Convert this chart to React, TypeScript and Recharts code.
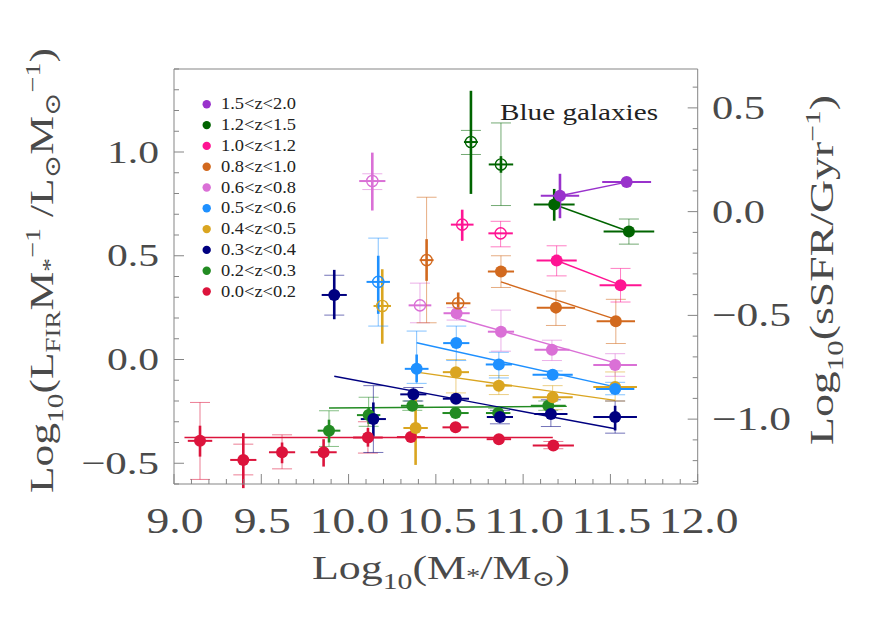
import React from "react";
import { ComposedChart, Scatter, XAxis, YAxis, ErrorBar, ReferenceLine } from "recharts";

// ---------- axes ----------
const X_DOMAIN: [number, number] = [9, 12];
const Y_LEFT_DOMAIN: [number, number] = [-0.6, 1.4];
const SSFR_OFFSET = 0.7126; // right axis value = left axis value - offset
const Y_RIGHT_DOMAIN: [number, number] = [Y_LEFT_DOMAIN[0] - SSFR_OFFSET, Y_LEFT_DOMAIN[1] - SSFR_OFFSET];
const X_MAJOR = [9.0, 9.5, 10.0, 10.5, 11.0, 11.5, 12.0];
const Y_LEFT_MAJOR = [-0.5, 0.0, 0.5, 1.0];
const Y_RIGHT_MAJOR = [-1.0, -0.5, 0.0, 0.5];
const minorTicks = (from: number, to: number) => {
  const out: number[] = [];
  for (let v = Math.round(from * 10); v <= Math.round(to * 10); v++) out.push(v / 10);
  return out;
};
const X_TICKS = minorTicks(9.0, 12.0);
const Y_LEFT_TICKS = minorTicks(-0.6, 1.4);
const Y_RIGHT_TICKS = minorTicks(-1.3, 0.6);

// ---------- data ----------
// row: [logM, y, xErr, thickLo, thickHi, thinLo, thinHi, open(1)/filled(0)]
type Row = [number, number, number, number | null, number | null, number | null, number | null, number];

const z00_02: Row[] = [
  [9.149, -0.392, 0.07, -0.468, -0.319, -0.578, -0.207, 0],
  [9.397, -0.484, 0.075, -0.62, -0.355, -0.556, -0.408, 0],
  [9.619, -0.447, 0.075, -0.5, -0.4, -0.527, -0.363, 0],
  [9.857, -0.447, 0.075, -0.516, -0.384, null, null, 0],
  [10.111, -0.376, 0.085, -0.42, -0.33, -0.451, -0.3, 0],
  [10.357, -0.374, 0.08, null, null, null, null, 0],
  [10.613, -0.327, 0.075, null, null, null, null, 0],
  [10.861, -0.384, 0.07, null, null, null, null, 0],
  [11.173, -0.414, 0.118, null, null, -0.43, -0.395, 0],
];
const z02_03: Row[] = [
  [9.888, -0.343, 0.065, -0.4, -0.29, -0.419, -0.247, 0],
  [10.115, -0.268, 0.067, -0.31, -0.23, -0.322, -0.182, 0],
  [10.365, -0.223, 0.065, null, null, -0.245, -0.2, 0],
  [10.613, -0.258, 0.075, null, null, null, null, 0],
  [10.857, -0.258, 0.07, null, null, -0.28, -0.235, 0],
  [11.144, -0.223, 0.1, null, null, -0.245, -0.2, 0],
];
const z03_04: Row[] = [
  [9.918, 0.311, 0.072, 0.194, 0.432, 0.214, 0.406, 0],
  [10.142, -0.287, 0.072, -0.371, -0.207, -0.448, -0.126, 0],
  [10.371, -0.168, 0.075, null, null, -0.2, -0.135, 0],
  [10.615, -0.189, 0.075, null, null, null, null, 0],
  [10.867, -0.277, 0.075, null, null, -0.31, -0.245, 0],
  [11.159, -0.263, 0.095, null, null, -0.323, -0.194, 0],
  [11.527, -0.277, 0.125, -0.342, -0.223, -0.355, -0.2, 0],
];
const z04_05: Row[] = [
  [10.193, 0.258, 0.05, 0.076, 0.435, null, null, 1],
  [10.384, -0.33, 0.07, -0.508, -0.161, null, null, 0],
  [10.615, -0.061, 0.075, null, null, -0.161, 0.0, 0],
  [10.861, -0.126, 0.075, null, null, -0.169, -0.077, 0],
  [11.169, -0.182, 0.115, null, null, -0.242, -0.126, 0],
  [11.527, -0.132, 0.125, null, null, -0.2, -0.06, 0],
];
const z05_06: Row[] = [
  [10.17, 0.374, 0.067, 0.22, 0.5, 0.161, 0.585, 1],
  [10.39, -0.045, 0.068, -0.11, 0.024, -0.115, 0.137, 0],
  [10.617, 0.079, 0.075, null, null, -0.005, 0.161, 0],
  [10.861, -0.024, 0.075, null, null, -0.089, 0.035, 0],
  [11.169, -0.074, 0.115, null, null, -0.09, -0.055, 0],
  [11.527, -0.142, 0.11, null, null, -0.17, -0.11, 0],
];
const z06_08: Row[] = [
  [10.136, 0.86, 0.075, 0.718, 0.997, 0.819, 0.895, 1],
  [10.409, 0.261, 0.065, null, null, 0.177, 0.368, 1],
  [10.619, 0.223, 0.075, null, null, 0.19, 0.25, 0],
  [10.873, 0.134, 0.075, null, null, 0.04, 0.238, 0],
  [11.165, 0.047, 0.1, null, null, -0.005, 0.093, 0],
  [11.527, -0.026, 0.125, null, null, -0.081, 0.028, 0],
];
const z08_10: Row[] = [
  [10.447, 0.479, 0.04, 0.379, 0.58, 0.177, 0.782, 1],
  [10.628, 0.271, 0.07, 0.213, 0.323, null, null, 1],
  [10.873, 0.424, 0.075, null, null, 0.347, 0.5, 0],
  [11.188, 0.25, 0.11, null, null, 0.164, 0.33, 0],
  [11.531, 0.184, 0.11, null, null, 0.077, 0.29, 0],
];
const z10_12: Row[] = [
  [10.651, 0.65, 0.065, 0.572, 0.722, null, null, 1],
  [10.871, 0.608, 0.07, null, null, 0.543, 0.666, 1],
  [11.192, 0.477, 0.115, null, null, 0.403, 0.548, 0],
  [11.558, 0.358, 0.12, null, null, 0.277, 0.439, 0],
];
const z12_15: Row[] = [
  [10.701, 1.048, 0.04, 0.798, 1.295, 0.988, 1.104, 1],
  [10.873, 0.94, 0.07, 0.9, 0.98, 0.742, 1.14, 1],
  [11.178, 0.747, 0.117, 0.669, 0.822, null, null, 0],
  [11.606, 0.617, 0.145, null, null, 0.556, 0.677, 0],
];
const z15_20: Row[] = [
  [11.211, 0.789, 0.11, 0.681, 0.895, null, null, 0],
  [11.593, 0.855, 0.14, null, null, null, null, 0],
];

// fitted lines: [[x0, y0], [x1, y1]]
const fit00_02 = [[9.06, -0.376], [11.17, -0.376]];
const fit02_03 = [[9.888, -0.234], [11.25, -0.226]];
const fit03_04 = [[9.918, -0.081], [11.527, -0.334]];
const fit04_05 = [[10.39, -0.061], [11.527, -0.197]];
const fit05_06 = [[10.39, 0.081], [11.527, -0.132]];
const fit06_08 = [[10.615, 0.2], [11.527, -0.016]];
const fit08_10 = [[10.873, 0.374], [11.531, 0.193]];
const fit10_12 = [[11.192, 0.477], [11.558, 0.358]];
const fit12_15 = [[11.178, 0.747], [11.606, 0.617]];
const fit15_20 = [[11.211, 0.789], [11.593, 0.855]];

const LABELS = ["0.0<z<0.2", "0.2<z<0.3", "0.3<z<0.4", "0.4<z<0.5", "0.5<z<0.6", "0.6<z<0.8", "0.8<z<1.0", "1.0<z<1.2", "1.2<z<1.5", "1.5<z<2.0"];
const COLORS = ["#DC143C", "#228B22", "#000080", "#DAA520", "#1E90FF", "#DA70D6", "#D2691E", "#FF1493", "#006400", "#9932CC"];
const SERIES = [z00_02, z02_03, z03_04, z04_05, z05_06, z06_08, z08_10, z10_12, z12_15, z15_20];
const FITS = [fit00_02, fit02_03, fit03_04, fit04_05, fit05_06, fit06_08, fit08_10, fit10_12, fit12_15, fit15_20];

const toData = (rows: Row[]) =>
  rows.map(([x, y, xe, tLo, tHi, nLo, nHi, open]) => ({
    x,
    y,
    ex: xe,
    eyT: tLo != null && tHi != null ? [y - tLo, tHi - y] : null,
    eyN: nLo != null && nHi != null ? [y - nLo, nHi - y] : null,
    open: open === 1,
  }));

// ---------- layout ----------
const W = 864;
const H = 615;
const P_LEFT = 166;
const P_RIGHT = 689.7;
const P_TOP = 61;
const P_BOTTOM = 476;
const AX = "#858585";
const TXT = "#4a4a4a";
const FONT = "'Liberation Serif', 'DejaVu Serif', serif";

const isMajor = (v: number) => Math.abs(v * 2 - Math.round(v * 2)) < 1e-6;
const fmt = (v: number) => (v < -1e-9 ? "\u2212" : "") + Math.abs(v).toFixed(1);
// rendered width of a tick label (wide Hershey-like digits)
const labelWidth = (s: string, digitW: number) => {
  let w = 0;
  for (const ch of s) w += ch === "." ? 12 : ch === "\u2212" ? 26 : digitW;
  return w;
};

const BottomTick = (p: any) => {
  const v = p.payload.value;
  const m = isMajor(v);
  const s = fmt(v);
  return (
    <g>
      <line x1={p.x} x2={p.x} y1={P_BOTTOM} y2={P_BOTTOM - (m ? 10 : 5)} stroke={AX} strokeWidth={1} />
      {m && (
        <text x={p.x + 1} y={524.5} textAnchor="middle" fontFamily={FONT} fontSize={35} fill={TXT} textLength={labelWidth(s, 22.5)} lengthAdjust="spacingAndGlyphs">
          {s}
        </text>
      )}
    </g>
  );
};
const TopTick = (p: any) => {
  const m = isMajor(p.payload.value);
  return <line x1={p.x} x2={p.x} y1={P_TOP} y2={P_TOP + (m ? 10 : 5)} stroke={AX} strokeWidth={1} />;
};
const LeftTick = (p: any) => {
  const v = p.payload.value;
  const m = isMajor(v);
  const s = fmt(v);
  return (
    <g>
      <line x1={P_LEFT} x2={P_LEFT + (m ? 10 : 5)} y1={p.y} y2={p.y} stroke={AX} strokeWidth={1} />
      {m && (
        <text x={151} y={p.y + 10.5} textAnchor="end" fontFamily={FONT} fontSize={32} fill={TXT} textLength={labelWidth(s, 20)} lengthAdjust="spacingAndGlyphs">
          {s}
        </text>
      )}
    </g>
  );
};
const RightTick = (p: any) => {
  const v = p.payload.value;
  const m = isMajor(v);
  const s = fmt(v);
  return (
    <g>
      <line x1={P_RIGHT} x2={P_RIGHT - (m ? 10 : 5)} y1={p.y} y2={p.y} stroke={AX} strokeWidth={1} />
      {m && (
        <text x={704} y={p.y + 11} textAnchor="start" fontFamily={FONT} fontSize={33} fill={TXT} textLength={labelWidth(s, 20.5)} lengthAdjust="spacingAndGlyphs">
          {s}
        </text>
      )}
    </g>
  );
};

const makeShape = (color: string) => (props: any) => {
  const { cx, cy, payload } = props;
  if (cx == null || cy == null) return <g />;
  if (payload && payload.open) {
    return <circle cx={cx} cy={cy} r={5.6} fill="none" stroke={color} strokeWidth={1.4} />;
  }
  return <circle cx={cx} cy={cy} r={6} fill={color} />;
};

export default function App() {
  return (
    <div style={{ position: "relative", width: W, height: H }}>
      <ComposedChart
        width={W}
        height={H}
        margin={{ left: P_LEFT - 60, right: W - P_RIGHT - 60, top: P_TOP - 20, bottom: H - P_BOTTOM - 60 }}
      >
        <XAxis
          xAxisId="b"
          dataKey="x"
          type="number"
          domain={X_DOMAIN}
          allowDataOverflow
          ticks={X_TICKS}
          interval={0}
          height={60}
          tickLine={false}
          axisLine={{ stroke: AX }}
          tick={BottomTick}
        />
        <XAxis
          xAxisId="t"
          orientation="top"
          type="number"
          domain={X_DOMAIN}
          allowDataOverflow
          ticks={X_TICKS}
          interval={0}
          height={20}
          tickLine={false}
          axisLine={{ stroke: AX }}
          tick={TopTick}
        />
        <YAxis
          yAxisId="l"
          dataKey="y"
          type="number"
          domain={Y_LEFT_DOMAIN}
          allowDataOverflow
          ticks={Y_LEFT_TICKS}
          interval={0}
          width={60}
          tickLine={false}
          axisLine={{ stroke: AX }}
          tick={LeftTick}
        />
        <YAxis
          yAxisId="r"
          orientation="right"
          type="number"
          domain={Y_RIGHT_DOMAIN}
          allowDataOverflow
          ticks={Y_RIGHT_TICKS}
          interval={0}
          width={60}
          tickLine={false}
          axisLine={{ stroke: AX }}
          tick={RightTick}
        />
        {FITS.map((f, i) => (
          <ReferenceLine
            key={"fit" + i}
            xAxisId="b"
            yAxisId="l"
            segment={[
              { x: f[0][0], y: f[0][1] },
              { x: f[1][0], y: f[1][1] },
            ]}
            stroke={COLORS[i]}
            strokeWidth={1.4}
            ifOverflow="visible"
          />
        ))}
        {SERIES.map((rows, i) => (
          <Scatter
            key={LABELS[i]}
            name={LABELS[i]}
            xAxisId="b"
            yAxisId="l"
            data={toData(rows)}
            dataKey="y"
            shape={makeShape(COLORS[i])}
            isAnimationActive={false}
          >
            <ErrorBar dataKey="ex" direction="x" width={0} stroke={COLORS[i]} strokeWidth={2} isAnimationActive={false} />
            <ErrorBar dataKey="eyN" direction="y" width={10} stroke={COLORS[i]} strokeWidth={1} strokeOpacity={0.55} isAnimationActive={false} />
            <ErrorBar dataKey="eyT" direction="y" width={0} stroke={COLORS[i]} strokeWidth={2.6} isAnimationActive={false} />
          </Scatter>
        ))}
      </ComposedChart>
      <svg width={W} height={H} style={{ position: "absolute", left: 0, top: 0, pointerEvents: "none" }}>
        {/* legend */}
        {LABELS.map((lab, i) => {
          const row = LABELS.length - 1 - i;
          const cy = 96.3 + row * 20.8;
          return (
            <g key={lab}>
              <circle cx={198.7} cy={cy} r={4.2} fill={COLORS[i]} />
              <text x={213} y={cy + 5} fontFamily={FONT} fontSize={16} fill="#222" textLength={75} lengthAdjust="spacingAndGlyphs">
                {lab}
              </text>
            </g>
          );
        })}
        <text x={492} y={112} fontFamily={FONT} fontSize={23} fill="#222" textLength={158} lengthAdjust="spacingAndGlyphs">
          Blue galaxies
        </text>
        {/* bottom title */}
        <text x={304} y={571} fontFamily={FONT} fontSize={34} fill={TXT} textLength={258} lengthAdjust="spacingAndGlyphs">
          Log
          <tspan dy={10} fontSize={23}>10</tspan>
          <tspan dy={-10}>(M</tspan>
          <tspan dy={4} fontSize={22}>*</tspan>
          <tspan dy={-4}>/M</tspan>
          <tspan dy={7} fontSize={22}>{"\u2299"}</tspan>
          <tspan dy={-7}>)</tspan>
        </text>
        {/* left title */}
        <text
          transform="translate(45,262.5) rotate(-90)"
          x={0}
          y={0}
          textAnchor="middle"
          fontFamily={FONT}
          fontSize={34}
          fill={TXT}
          textLength={445}
          lengthAdjust="spacingAndGlyphs"
        >
          Log
          <tspan dy={10} fontSize={23}>10</tspan>
          <tspan dy={-10}>(L</tspan>
          <tspan dy={7} fontSize={21}>FIR</tspan>
          <tspan dy={-7}>M</tspan>
          <tspan dy={4} fontSize={22}>*</tspan>
          <tspan dy={-17} fontSize={22}>{"\u22121"}</tspan>
          <tspan dy={13}>{" /L"}</tspan>
          <tspan dy={7} fontSize={22}>{"\u2299"}</tspan>
          <tspan dy={-7}>M</tspan>
          <tspan dy={7} fontSize={22}>{"\u2299"}</tspan>
          <tspan dy={-20} fontSize={22}>{"\u22121"}</tspan>
          <tspan dy={13}>)</tspan>
        </text>
        {/* right title */}
        <text
          transform="translate(825,262) rotate(-90)"
          x={0}
          y={0}
          textAnchor="middle"
          fontFamily={FONT}
          fontSize={34}
          fill={TXT}
          textLength={350}
          lengthAdjust="spacingAndGlyphs"
        >
          Log
          <tspan dy={10} fontSize={23}>10</tspan>
          <tspan dy={-10}>(sSFR/Gyr</tspan>
          <tspan dy={-13} fontSize={22}>{"\u22121"}</tspan>
          <tspan dy={13}>)</tspan>
        </text>
      </svg>
    </div>
  );
}
